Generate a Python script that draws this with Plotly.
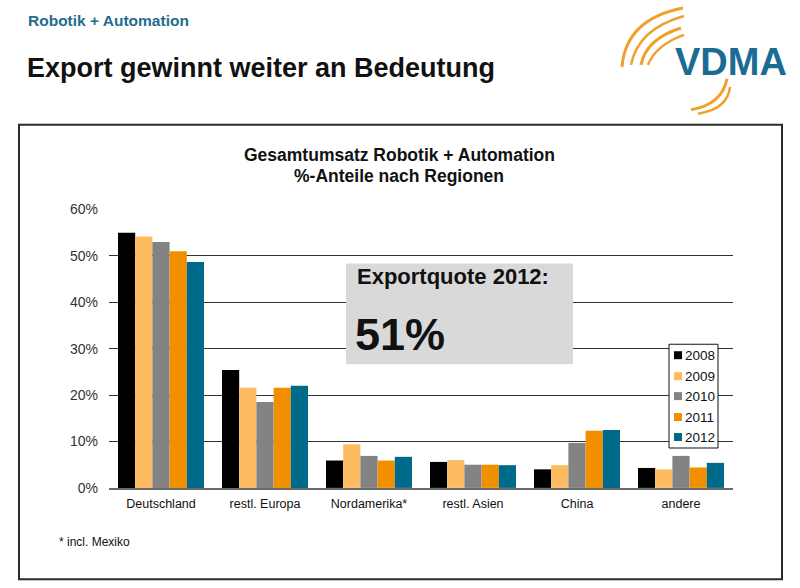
import plotly.graph_objects as go

categories = ["Deutschland", "restl. Europa", "Nordamerika*", "restl. Asien", "China", "andere"]
years = ["2008", "2009", "2010", "2011", "2012"]
v2008 = [55.0, 25.4, 5.9, 5.6, 4.0, 4.3]
v2009 = [54.2, 21.6, 9.4, 6.0, 4.9, 4.0]
v2010 = [53.0, 18.5, 6.9, 5.0, 9.7, 6.9]
v2011 = [51.0, 21.6, 5.9, 5.0, 12.3, 4.4]
v2012 = [48.7, 22.0, 6.7, 4.9, 12.5, 5.4]
series = [v2008, v2009, v2010, v2011, v2012]
colors = ["#000000", "#FDBB62", "#838383", "#F28F00", "#006A8A"]
ytick_vals = [0, 10, 20, 30, 40, 50, 60]
ytick_text = ["0%", "10%", "20%", "30%", "40%", "50%", "60%"]

W, H = 800, 588
FONT = "Liberation Sans, Arial, sans-serif"


def X(px):
    return px / W


def Y(py):
    # map a reference pixel row to paper coordinates (with small vertical correction)
    v = 1 - ((py - 7) / 0.975) / H
    return min(max(v, 0.0015), 1.0)


fig = go.Figure()
for yr, vals, col in zip(years, series, colors):
    fig.add_trace(go.Bar(name=yr, x=categories, y=vals, marker=dict(color=col, line=dict(width=0)),
                         showlegend=False))

shapes = []
annotations = []

# outer chart frame
shapes.append(dict(type="rect", xref="paper", yref="paper", x0=X(19), x1=X(782), y0=Y(580), y1=Y(124),
                   line=dict(color="#2a2a2a", width=2), layer="below"))

# Exportquote box
shapes.append(dict(type="rect", xref="paper", yref="paper", x0=X(346), x1=X(573), y0=Y(364), y1=Y(263),
                   fillcolor="#D9D9D9", line=dict(width=0), layer="above"))
annotations.append(dict(text="<b>Exportquote 2012:</b>", xref="paper", yref="paper", x=X(355), y=Y(276),
                        xanchor="left", yanchor="middle", showarrow=False,
                        font=dict(family=FONT, size=22, color="#111111")))
annotations.append(dict(text="<b>51%</b>", xref="paper", yref="paper", x=X(353), y=Y(334),
                        xanchor="left", yanchor="middle", showarrow=False,
                        font=dict(family=FONT, size=45, color="#111111")))

# manual legend
shapes.append(dict(type="rect", xref="paper", yref="paper", x0=X(669), x1=X(718), y0=Y(448), y1=Y(344),
                   fillcolor="white", line=dict(color="#111111", width=1), layer="above"))
leg_y = [355, 376, 396, 417, 437]
for yr, col, ly in zip(years, colors, leg_y):
    shapes.append(dict(type="rect", xref="paper", yref="paper", x0=X(674), x1=X(682), y0=Y(ly + 4), y1=Y(ly - 4),
                       fillcolor=col, line=dict(width=0), layer="above"))
    annotations.append(dict(text=yr, xref="paper", yref="paper", x=X(683), y=Y(ly),
                            xanchor="left", yanchor="middle", showarrow=False,
                            font=dict(family=FONT, size=13.5, color="#111111")))

# chart title
annotations.append(dict(text="<b>Gesamtumsatz Robotik + Automation</b>", xref="paper", yref="paper",
                        x=X(399), y=Y(154), xanchor="center", yanchor="middle", showarrow=False,
                        font=dict(family=FONT, size=17.5, color="#111111")))
annotations.append(dict(text="<b>%-Anteile nach Regionen</b>", xref="paper", yref="paper",
                        x=X(399), y=Y(175), xanchor="center", yanchor="middle", showarrow=False,
                        font=dict(family=FONT, size=17.5, color="#111111")))

# footnote
annotations.append(dict(text="* incl. Mexiko", xref="paper", yref="paper", x=X(57), y=Y(542),
                        xanchor="left", yanchor="middle", showarrow=False,
                        font=dict(family=FONT, size=12, color="#111111")))

# page header
annotations.append(dict(text="<b>Robotik + Automation</b>", xref="paper", yref="paper", x=X(26), y=Y(20),
                        xanchor="left", yanchor="middle", showarrow=False,
                        font=dict(family=FONT, size=15.5, color="#1F6C8E")))
annotations.append(dict(text="<b>Export gewinnt weiter an Bedeutung</b>", xref="paper", yref="paper",
                        x=X(25), y=Y(67), xanchor="left", yanchor="middle", showarrow=False,
                        font=dict(family=FONT, size=27, color="#111111")))

# VDMA logo
annotations.append(dict(text="<b>VDMA</b>", xref="paper", yref="paper", x=X(731), y=Y(61),
                        xanchor="center", yanchor="middle", showarrow=False,
                        font=dict(family=FONT, size=38, color="#1B6B93")))
arcs = [
    ((622, 66), (626, 18), (683, 7), 3),
    ((631, 64), (638, 28), (684, 15), 2.5),
    ((641, 64), (646, 38), (681, 27), 3),
    ((648, 64), (656, 44), (684, 34), 2.5),
    ((691, 109), (722, 104), (727, 78), 3),
    ((698, 113), (728, 108), (730, 86), 2.5),
]
for (x0, y0), (cx, cy), (x1, y1), w in arcs:
    shapes.append(dict(type="path", xref="paper", yref="paper",
                       path=f"M {X(x0)},{Y(y0)} Q {X(cx)},{Y(cy)} {X(x1)},{Y(y1)}",
                       line=dict(color="#F0A12A", width=w), layer="above"))

fig.update_layout(
    width=W, height=H,
    margin=dict(l=0, r=0, t=0, b=0),
    paper_bgcolor="white", plot_bgcolor="white",
    barmode="group", bargap=0.173, bargroupgap=0,
    font=dict(family=FONT, color="#222222"),
    shapes=shapes, annotations=annotations,
    xaxis=dict(domain=[X(109), X(733)], showline=True, linecolor="#6a6a6a", linewidth=2,
               tickfont=dict(family=FONT, size=12.5, color="#111111"), ticks="", showgrid=False,
               ticklabelstandoff=3),
    yaxis=dict(domain=[Y(488), Y(209)], range=[0, 60], tickmode="array", tickvals=ytick_vals,
               ticktext=ytick_text,
               showgrid=True, gridcolor="#333333", gridwidth=1, zeroline=False, showline=False,
               tickfont=dict(family=FONT, size=14, color="#333333"), ticks="", ticklabelstandoff=10),
)

fig.write_html("out.html")
